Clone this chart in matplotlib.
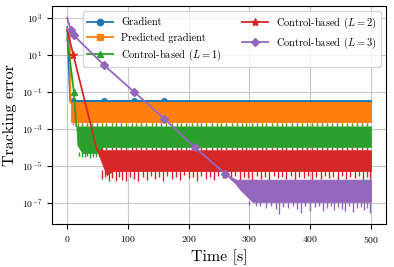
import numpy as np
import matplotlib as mpl
mpl.use('agg')
import matplotlib.pyplot as plt
from matplotlib.lines import Line2D

plt.rcParams['font.family'] = 'serif'
plt.rcParams['font.serif'] = ['cmr10']
plt.rcParams['mathtext.fontset'] = 'cm'
plt.rcParams['axes.formatter.use_mathtext'] = True

###########################################################
# data, values are log10(error)
###########################################################

labels = ['Gradient', 'Predicted gradient', r'Control-based ($L=1$)',
          r'Control-based ($L=2$)', r'Control-based ($L=3$)']

# transient part of each run (line + markers)
grad_t = [0, 5, 10, 60, 110, 160]
grad_y = [2.5, -1.5, -1.5, -1.5, -1.5, -1.5]
pred_t = [0, 4, 5.5]
pred_y = [2.4, 2.1, -1.55]
l1_t = [0, 11, 15]
l1_y = [1.9, -1.0, -2.85]
l2_t = [0, 10, 49]
l2_y = [2.35, 1.0, -4.14]
l3_t = [0, 6, 11, 60, 110, 160, 210, 260]
l3_y = [3.0, 2.35, 2.05, 0.46, -1.0, -2.46, -4.0, -5.43]

# indices of the visible markers
grad_mark = [2, 3, 4, 5]
pred_mark = []
l1_mark = [1]
l2_mark = [1]
l3_mark = [1, 2, 3, 4, 5, 6, 7]

# steady oscillation bands: times, upper and lower envelope
grad_band_t = [5, 500]
grad_band_hi = [-1.43, -1.43]
grad_band_lo = [-1.56, -1.56]
pred_band_t = [5.5, 500]
pred_band_hi = [-1.55, -1.55]
pred_band_lo = [-2.62, -2.62]
l1_band_t = [15, 17, 25, 55, 58, 500]
l1_band_hi = [-2.87, -2.87, -2.87, -2.87, -2.87, -2.87]
l1_band_lo = [-2.87, -3.9, -4.3, -4.3, -3.98, -3.98]
l2_band_t = [49, 65, 75, 500]
l2_band_hi = [-4.16, -4.16, -4.16, -4.16]
l2_band_lo = [-4.16, -5.5, -5.28, -5.28]
l3_band_t = [260, 278, 285, 305, 500]
l3_band_hi = [-5.43, -5.75, -5.75, -5.75, -5.75]
l3_band_lo = [-5.43, -6.0, -6.3, -6.95, -6.95]

# small notches along the band edges
notch_t = [9, 17, 24, 32, 41, 49, 57, 64, 73, 81, 89, 97, 106, 114, 122,
           130, 139, 147, 155, 163, 172, 180, 188, 196, 205, 213, 221, 229,
           238, 246, 254, 262, 271, 279, 287, 295, 304, 312, 320, 328, 337,
           345, 353, 361, 370, 378, 386, 394, 403, 411, 419, 427, 436, 444,
           452, 460, 469, 477, 485, 493]
pred_notch = -2.78
l1_notch_hi = -2.74
l1_notch_lo = -4.1
l2_notch_hi = -4.03

# deeper spikes
l1_spike_t = [20, 24, 29, 33, 38, 42, 47, 52]
l1_spike_y = [-4.45, -4.5, -4.55, -4.45, -4.6, -4.5, -4.55, -4.45]
l2_spike_t = [58, 63, 69, 74, 80, 86, 91, 97, 104, 110, 117, 124, 131,
              138, 145, 151, 158, 165, 172, 179, 186, 193, 200, 207, 214,
              221, 228, 235, 242, 249, 256, 263, 270, 277, 284, 291, 298,
              305, 312, 319, 326, 333, 340, 347, 354, 361, 368, 375, 382,
              389, 396, 403, 410, 417, 424, 431, 438, 445, 452, 459, 466,
              473, 480, 487, 494, 499]
l2_spike_y = [-5.7, -5.6, -5.8, -5.65, -5.85, -5.6, -5.75, -5.8, -5.6,
              -5.7, -5.85, -5.6, -5.75, -5.55, -5.7, -5.6, -5.8, -5.55,
              -5.7, -5.6, -5.75, -5.5, -5.65, -5.6, -5.8, -5.55, -5.7,
              -5.6, -5.75, -5.55, -5.65, -5.6, -5.7, -5.55, -5.75, -5.6,
              -5.65, -5.8, -5.55, -5.7, -5.6, -5.75, -5.55, -5.65, -5.6,
              -5.7, -5.55, -5.75, -5.6, -5.65, -5.55, -5.8, -5.6, -5.7,
              -5.55, -5.65, -5.6, -5.75, -5.55, -5.7, -5.6, -5.65, -5.55,
              -5.75, -5.6, -5.7]
l3_spike_t = [300, 310, 318, 327, 336, 343, 349, 356, 363, 371, 378, 385,
              392, 400, 408, 415, 421, 428, 434, 440, 446, 452, 458, 464,
              471, 477, 483, 489, 494, 498]
l3_spike_y = [-7.1, -7.2, -7.15, -7.3, -7.2, -7.35, -7.6, -7.25, -7.3,
              -7.2, -7.35, -7.55, -7.2, -7.45, -7.25, -7.2, -7.45, -7.3,
              -7.2, -7.4, -7.25, -7.35, -7.45, -7.2, -7.5, -7.3, -7.25,
              -7.4, -7.3, -7.55]

###########################################################
# plot
###########################################################

def p(v):
    return 10.0 ** np.asarray(v, dtype=float)

colors = ['C0', 'C1', 'C2', 'C3', 'C4']
markers = ['o', 's', '^', '*', 'D']
msizes = [4, 4, 4.5, 5.5, 4]
spk = 1.0  # width of the spike strokes

fig = plt.figure(figsize=(3.94, 2.67), dpi=100)
ax = fig.add_axes([0.132, 0.161, 0.848, 0.817])

series = [
    (grad_t, grad_y, grad_mark, grad_band_t, grad_band_hi, grad_band_lo),
    (pred_t, pred_y, pred_mark, pred_band_t, pred_band_hi, pred_band_lo),
    (l1_t, l1_y, l1_mark, l1_band_t, l1_band_hi, l1_band_lo),
    (l2_t, l2_y, l2_mark, l2_band_t, l2_band_hi, l2_band_lo),
    (l3_t, l3_y, l3_mark, l3_band_t, l3_band_hi, l3_band_lo),
]

for i, (t, y, mk, bt, bhi, blo) in enumerate(series):
    c = colors[i]
    z = 2 + i
    ax.fill_between(bt, p(blo), p(bhi), color=c, lw=0.6, zorder=z)
    ax.plot(t, p(y), color=c, lw=1.3, zorder=z)
    if mk:
        ax.plot(np.asarray(t)[mk], p(np.asarray(y)[mk]), ls='none',
                marker=markers[i], ms=msizes[i], color=c, zorder=z)
    # texture on the band edges
    if i == 1:
        nt = [x for x in notch_t if x > 6]
        ax.vlines(nt, p(pred_notch), p(pred_band_lo[0]), color=c, lw=spk, zorder=z)
    if i == 2:
        nt = [x for x in notch_t if x > 16]
        ax.vlines(nt, p(l1_band_hi[0]), p(l1_notch_hi), color=c, lw=spk, zorder=z)
        nt = [x for x in notch_t if x > 58]
        ax.vlines(nt, p(l1_notch_lo), p(l1_band_lo[-1]), color=c, lw=spk, zorder=z)
        ax.vlines(l1_spike_t, p(l1_spike_y), p(-4.25), color=c, lw=spk, zorder=z)
    if i == 3:
        nt = [x for x in notch_t if x > 52]
        ax.vlines(nt, p(l2_band_hi[0]), p(l2_notch_hi), color=c, lw=spk, zorder=z)
        ax.vlines(l2_spike_t, p(l2_spike_y), p(-5.25), color=c, lw=spk, zorder=z)
    if i == 4:
        ax.vlines(l3_spike_t, p(l3_spike_y), p(-6.9), color=c, lw=spk, zorder=z)

ax.set_yscale('log')
ax.set_xlim(-25, 525)
ax.set_ylim(10 ** -8.15, 10 ** 3.65)
ax.set_yticks([1e-7, 1e-5, 1e-3, 1e-1, 1e1, 1e3])
ax.yaxis.set_minor_locator(mpl.ticker.NullLocator())
ax.set_xticks([0, 100, 200, 300, 400, 500])
ax.tick_params(labelsize=7)
ax.grid(True, color='#c8c8c8', lw=0.8)
ax.set_axisbelow(True)
ax.set_xlabel('Time [s]', fontsize=11.5, labelpad=3)
ax.set_ylabel('Tracking error', fontsize=11.5, labelpad=3)

handles = [Line2D([], [], color=colors[i], lw=1.3, marker=markers[i],
                  ms=msizes[i] + 0.5) for i in range(5)]
ax.legend(handles, labels, loc='upper right', ncol=2, fontsize=7.5,
          handlelength=2.5, framealpha=0.8)

fig.savefig('out.png', dpi=100)
